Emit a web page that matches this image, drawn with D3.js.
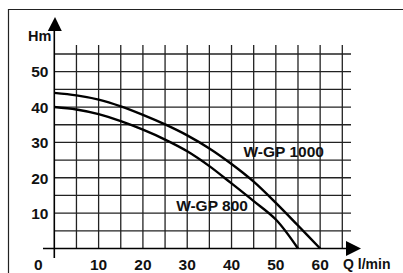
<!DOCTYPE html>
<html><head><meta charset="utf-8">
<script src="https://cdn.jsdelivr.net/npm/d3@7"></script>
<style>
html,body{margin:0;padding:0;background:#fff;}
svg{display:block;}
text{font-family:"Liberation Sans",Arial,Helvetica,sans-serif;font-weight:bold;fill:#111;}
</style></head>
<body>
<script>
// ---- data ----
const qTickLabels = [10, 20, 30, 40, 50, 60];
const hTickLabels = [10, 20, 30, 40, 50];
const gridQ = [5,10,15,20,25,30,35,40,45,50,55,60,65];
const gridH = [5,10,15,20,25,30,35,40,45,50,55];
const seriesNames = ["W-GP 1000", "W-GP 800"];
const q1000 = [0, 5, 10, 15, 20, 25, 30, 35, 40, 45, 50, 55, 60];
const h1000 = [44, 43.3, 42.1, 40.2, 37.8, 35.1, 32.0, 28.3, 23.9, 18.9, 12.9, 6.5, 0];
const q800 = [0, 5, 10, 15, 20, 25, 30, 35, 40, 45, 50, 55];
const h800 = [40, 39.3, 38.0, 36.0, 33.6, 30.8, 27.5, 23.3, 18.4, 13.4, 8.2, 0];
const labelPos = [[42.7, 25.9], [27.5, 10.7]];  // [Q,H] start of series labels
const yTitle = "Hm";
const xTitle = "Q l/min";

const W = 403, H = 273;
const svg = d3.select("body").append("svg").attr("width", W).attr("height", H);

const x = d3.scaleLinear().domain([0, 65]).range([54.3, 342.3]);
const y = d3.scaleLinear().domain([0, 55]).range([248.5, 54]);

// frame (left and top edges visible)
svg.append("path").attr("d", `M8.5,${H} V9.5 H${W}`).attr("fill","none").attr("stroke","#222").attr("stroke-width",1.2);

// grid
const g = svg.append("g").attr("stroke","#222").attr("stroke-width",1.3);
g.selectAll("line.v").data(gridQ).enter().append("line")
  .attr("x1", d => x(d)).attr("x2", d => x(d))
  .attr("y1", 45).attr("y2", y(0));
g.selectAll("line.h").data(gridH).enter().append("line")
  .attr("y1", d => y(d)).attr("y2", d => y(d))
  .attr("x1", x(0)).attr("x2", 351);

// axes
svg.append("line").attr("x1", x(0)).attr("x2", x(0)).attr("y1", 258).attr("y2", 28)
  .attr("stroke","#000").attr("stroke-width",1.6);
svg.append("line").attr("x1", 43).attr("x2", 348).attr("y1", y(0)).attr("y2", y(0))
  .attr("stroke","#000").attr("stroke-width",1.6);
// arrows
svg.append("path").attr("d", `M${x(0)+0.7},17 L${x(0)+7.5},31 L${x(0)-6.5},31 Z`).attr("fill","#000");
svg.append("path").attr("d", `M361,${y(0)} L346,${y(0)-7.5} L346,${y(0)+7.5} Z`).attr("fill","#000");

// curves
const line = d3.line().x(d => x(d[0])).y(d => y(d[1])).curve(d3.curveCatmullRom.alpha(0.5));
svg.append("path").datum(q1000.map((q,i) => [q, h1000[i]]))
  .attr("d", line).attr("fill","none").attr("stroke","#000").attr("stroke-width",2.4);
svg.append("path").datum(q800.map((q,i) => [q, h800[i]]))
  .attr("d", line).attr("fill","none").attr("stroke","#000").attr("stroke-width",2.4);

// series labels
svg.selectAll("text.s").data(seriesNames).enter().append("text")
  .attr("x", (d,i) => x(labelPos[i][0])).attr("y", (d,i) => y(labelPos[i][1]))
  .attr("font-size", 15.5).text(d => d);

// tick labels
svg.selectAll("text.yt").data(hTickLabels).enter().append("text")
  .attr("x", 48.5).attr("y", d => y(d) + 5.8).attr("text-anchor","end")
  .attr("font-size", 15.5).text(d => d);
svg.selectAll("text.xt").data(qTickLabels).enter().append("text")
  .attr("x", d => x(d)).attr("y", 270).attr("text-anchor","middle")
  .attr("font-size", 15.5).text(d => d);
svg.append("text").attr("x", 38.3).attr("y", 270).attr("text-anchor","middle")
  .attr("font-size", 15.5).text(0);

// titles
svg.append("text").attr("x", 28).attr("y", 41).attr("font-size", 14.5).text(yTitle);
svg.append("text").attr("x", 343).attr("y", 269).attr("font-size", 14).text(xTitle);
</script>
</body></html>
